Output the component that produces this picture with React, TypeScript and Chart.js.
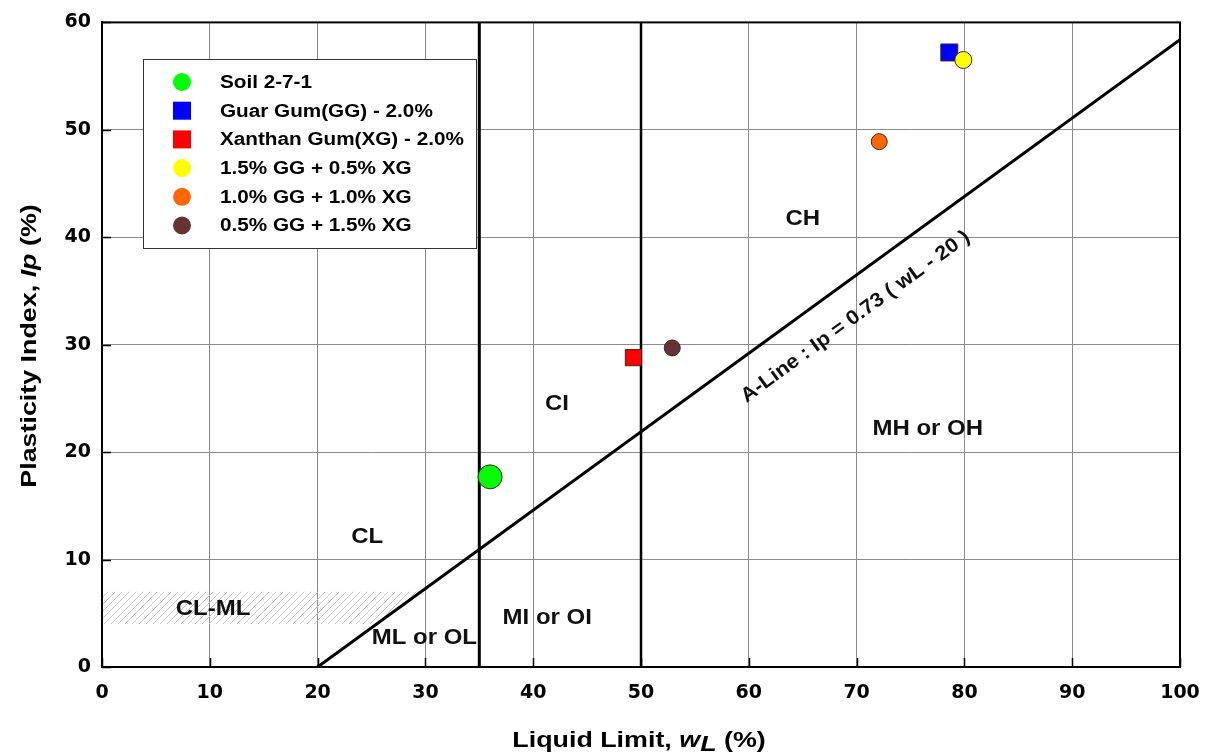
import React, { useEffect, useRef } from "react";
import { Chart, registerables } from "chart.js";

Chart.register(...registerables);

// ---------- data ----------
const seriesNames = [
  "Soil 2-7-1",
  "Guar Gum(GG) - 2.0%",
  "Xanthan Gum(XG) - 2.0%",
  "1.5% GG + 0.5% XG",
  "1.0% GG + 1.0% XG",
  "0.5% GG + 1.5% XG",
];
const liquidLimit = [36.0, 78.6, 49.3, 79.9, 72.1, 52.9];
const plasticityIndex = [17.7, 57.2, 28.8, 56.5, 48.9, 29.7];
const markerColors = ["#00FF00", "#0000FF", "#FF0000", "#FFFF00", "#FF6600", "#663333"];
const markerShapes = ["circle", "rect", "rect", "circle", "circle", "circle"];
const markerRadii = [12, 12, 11.5, 8.5, 8, 8];

const aLineLL = [20, 100];
const aLinePI = [0, 58.4];
const boundaryLL = [35, 50];
const boundaryPI = [0, 60];
const clmlBand = [4, 7];

const zoneLabels = ["CH", "CI", "MH or OH", "CL", "CL-ML", "ML or OL", "MI or OI"];
const zoneLL = [65.0, 42.2, 76.6, 24.6, 10.3, 29.9, 41.3];
const zonePI = [41.7, 24.5, 22.2, 12.1, 5.4, 2.7, 4.6];

const aLineLabel = "A-Line : Ip = 0.73 ( wL - 20 )";
const aLineLabelLL = 69.9;
const aLineLabelPI = 32.6;

const xTicks = [0, 10, 20, 30, 40, 50, 60, 70, 80, 90, 100];
const yTicks = [0, 10, 20, 30, 40, 50, 60];

const FONT = "'Liberation Sans', Arial, Helvetica, sans-serif";
const TICK_FONT = "'DejaVu Sans', sans-serif";

function aLineXAt(pi: number) {
  const [x1, x2] = aLineLL;
  const [y1, y2] = aLinePI;
  return x1 + ((pi - y1) * (x2 - x1)) / (y2 - y1);
}

function makeHatch(ctx: CanvasRenderingContext2D) {
  const c = document.createElement("canvas");
  c.width = 7;
  c.height = 7;
  const g = c.getContext("2d")!;
  g.strokeStyle = "#c2c2c2";
  g.lineWidth = 1;
  g.beginPath();
  g.moveTo(-1, 8);
  g.lineTo(8, -1);
  g.moveTo(-1, 1);
  g.lineTo(1, -1);
  g.moveTo(6, 8);
  g.lineTo(8, 6);
  g.stroke();
  return ctx.createPattern(c, "repeat");
}

type Part = { t: string; it?: boolean; dy?: number };

function drawStretched(
  ctx: CanvasRenderingContext2D,
  parts: Part[],
  cx: number,
  cy: number,
  size: number,
  sx: number,
  rot: number,
  align: "center" | "left" = "center"
) {
  ctx.save();
  ctx.translate(cx, cy);
  ctx.rotate(rot);
  ctx.scale(sx, 1);
  ctx.textBaseline = "middle";
  ctx.textAlign = "left";
  const widths = parts.map((p) => {
    ctx.font = `bold ${p.it ? "italic " : ""}${size}px ${FONT}`;
    return ctx.measureText(p.t).width;
  });
  const total = widths.reduce((a, b) => a + b, 0);
  let x = align === "center" ? -total / 2 : 0;
  parts.forEach((p, i) => {
    ctx.font = `bold ${p.it ? "italic " : ""}${size}px ${FONT}`;
    ctx.fillText(p.t, x, p.dy || 0);
    x += widths[i];
  });
  ctx.restore();
}

const overlayPlugin = {
  id: "overlay",
  beforeDatasetsDraw(chart: any) {
    const { ctx, scales } = chart;
    const x = scales.x, y = scales.y;
    ctx.save();
    ctx.fillStyle = makeHatch(ctx) as any;
    ctx.beginPath();
    ctx.moveTo(x.getPixelForValue(0), y.getPixelForValue(clmlBand[0]));
    ctx.lineTo(x.getPixelForValue(aLineXAt(clmlBand[0])), y.getPixelForValue(clmlBand[0]));
    ctx.lineTo(x.getPixelForValue(aLineXAt(clmlBand[1])), y.getPixelForValue(clmlBand[1]));
    ctx.lineTo(x.getPixelForValue(0), y.getPixelForValue(clmlBand[1]));
    ctx.closePath();
    ctx.fill();
    ctx.restore();
  },
  afterDatasetsDraw(chart: any) {
    const { ctx, scales, chartArea } = chart;
    const x = scales.x, y = scales.y;
    ctx.save();
    ctx.fillStyle = "#111";
    zoneLabels.forEach((t, i) => {
      drawStretched(ctx, [{ t }], x.getPixelForValue(zoneLL[i]), y.getPixelForValue(zonePI[i]), 22, 1.09, 0);
    });
    const ang = Math.atan2(
      y.getPixelForValue(aLinePI[1]) - y.getPixelForValue(aLinePI[0]),
      x.getPixelForValue(aLineLL[1]) - x.getPixelForValue(aLineLL[0])
    );
    drawStretched(
      ctx,
      [{ t: aLineLabel }],
      x.getPixelForValue(aLineLabelLL),
      y.getPixelForValue(aLineLabelPI),
      20,
      1.08,
      ang
    );

    // border box
    ctx.strokeStyle = "#000";
    ctx.lineWidth = 2;
    ctx.strokeRect(chartArea.left, chartArea.top, chartArea.right - chartArea.left, chartArea.bottom - chartArea.top);
    ctx.lineWidth = 1.5;
    ctx.beginPath();
    yTicks.forEach((v) => {
      const py = Math.round(y.getPixelForValue(v)) + 0.5;
      ctx.moveTo(chartArea.left, py);
      ctx.lineTo(chartArea.left + 9, py);
    });
    xTicks.forEach((v) => {
      const px = Math.round(x.getPixelForValue(v)) + 0.5;
      ctx.moveTo(px, chartArea.bottom);
      ctx.lineTo(px, chartArea.bottom - 9);
    });
    ctx.stroke();

    // legend
    const lx = 143, ly = 59, lw = 333, lh = 189;
    ctx.fillStyle = "#fff";
    ctx.fillRect(lx, ly, lw, lh);
    ctx.strokeStyle = "#333";
    ctx.lineWidth = 1;
    ctx.strokeRect(lx + 0.5, ly + 0.5, lw, lh);
    seriesNames.forEach((name, i) => {
      const ry = 82 + i * 28.7;
      ctx.fillStyle = markerColors[i];
      if (markerShapes[i] === "rect") {
        ctx.fillRect(173, ry - 9, 18, 18);
      } else {
        ctx.beginPath();
        ctx.arc(182, ry, 9, 0, Math.PI * 2);
        ctx.fill();
      }
      ctx.fillStyle = "#000";
      drawStretched(ctx, [{ t: name }], 220, ry + 1, 18, 1.15, 0, "left");
    });

    // axis titles
    ctx.fillStyle = "#000";
    drawStretched(
      ctx,
      [{ t: "Plasticity Index, " }, { t: "Ip", it: true }, { t: " (%)" }],
      30,
      346,
      22,
      1.22,
      -Math.PI / 2
    );
    drawStretched(
      ctx,
      [{ t: "Liquid Limit, " }, { t: "w", it: true }, { t: "L", it: true, dy: 4 }, { t: " (%)" }],
      639,
      741,
      22,
      1.22,
      0
    );
    ctx.restore();
  },
};

export default function App() {
  const ref = useRef<HTMLCanvasElement | null>(null);
  useEffect(() => {
    document.body.style.margin = "0";
    if (!ref.current) return;
    const pointSets = seriesNames.map((name, i) => ({
      type: "scatter" as const,
      label: name,
      data: [{ x: liquidLimit[i], y: plasticityIndex[i] }],
      pointStyle: markerShapes[i],
      pointRadius: markerRadii[i],
      pointHoverRadius: markerRadii[i],
      backgroundColor: markerColors[i],
      borderColor: "#3a2a2a",
      borderWidth: 1,
      order: 10 - i,
    }));
    const lineSets = [
      {
        type: "line" as const,
        label: "A-Line",
        data: aLineLL.map((v, i) => ({ x: v, y: aLinePI[i] })),
        borderColor: "#000",
        borderWidth: 3,
        pointRadius: 0,
        order: 100,
      },
      ...boundaryLL.map((ll, k) => ({
        type: "line" as const,
        label: `wL = ${ll}`,
        data: boundaryPI.map((p) => ({ x: ll, y: p })),
        borderColor: "#000",
        borderWidth: k === 0 ? 3 : 2.5,
        pointRadius: 0,
        order: 100,
      })),
    ];
    const chart = new Chart(ref.current, {
      type: "scatter",
      data: { datasets: [...pointSets, ...lineSets] as any },
      options: {
        animation: false,
        responsive: true,
        maintainAspectRatio: false,
        layout: { padding: { top: 21, right: 35, left: 0, bottom: 0 } },
        plugins: { legend: { display: false }, tooltip: { enabled: false } },
        scales: {
          x: {
            type: "linear",
            min: 0,
            max: 100,
            afterBuildTicks: (s: any) => {
              s.ticks = xTicks.map((v) => ({ value: v }));
            },
            ticks: { font: { family: TICK_FONT, size: 19, weight: "bold" }, color: "#000", padding: 15 },
            grid: { color: "#8c8c8c", lineWidth: 1, drawTicks: false },
            border: { display: true, color: "#000", width: 2 },
            afterFit: (s: any) => {
              s.height = 89;
            },
          },
          y: {
            type: "linear",
            min: 0,
            max: 60,
            afterBuildTicks: (s: any) => {
              s.ticks = yTicks.map((v) => ({ value: v }));
            },
            ticks: { font: { family: TICK_FONT, size: 19, weight: "bold" }, color: "#000", padding: 11 },
            grid: { color: "#8c8c8c", lineWidth: 1, drawTicks: false },
            border: { display: true, color: "#000", width: 2 },
            afterFit: (s: any) => {
              s.width = 102;
            },
          },
        },
      } as any,
      plugins: [overlayPlugin],
    });
    return () => chart.destroy();
  }, []);
  return (
    <div style={{ position: "relative", width: 1215, height: 756, background: "#fff" }}>
      <canvas ref={ref} />
    </div>
  );
}
